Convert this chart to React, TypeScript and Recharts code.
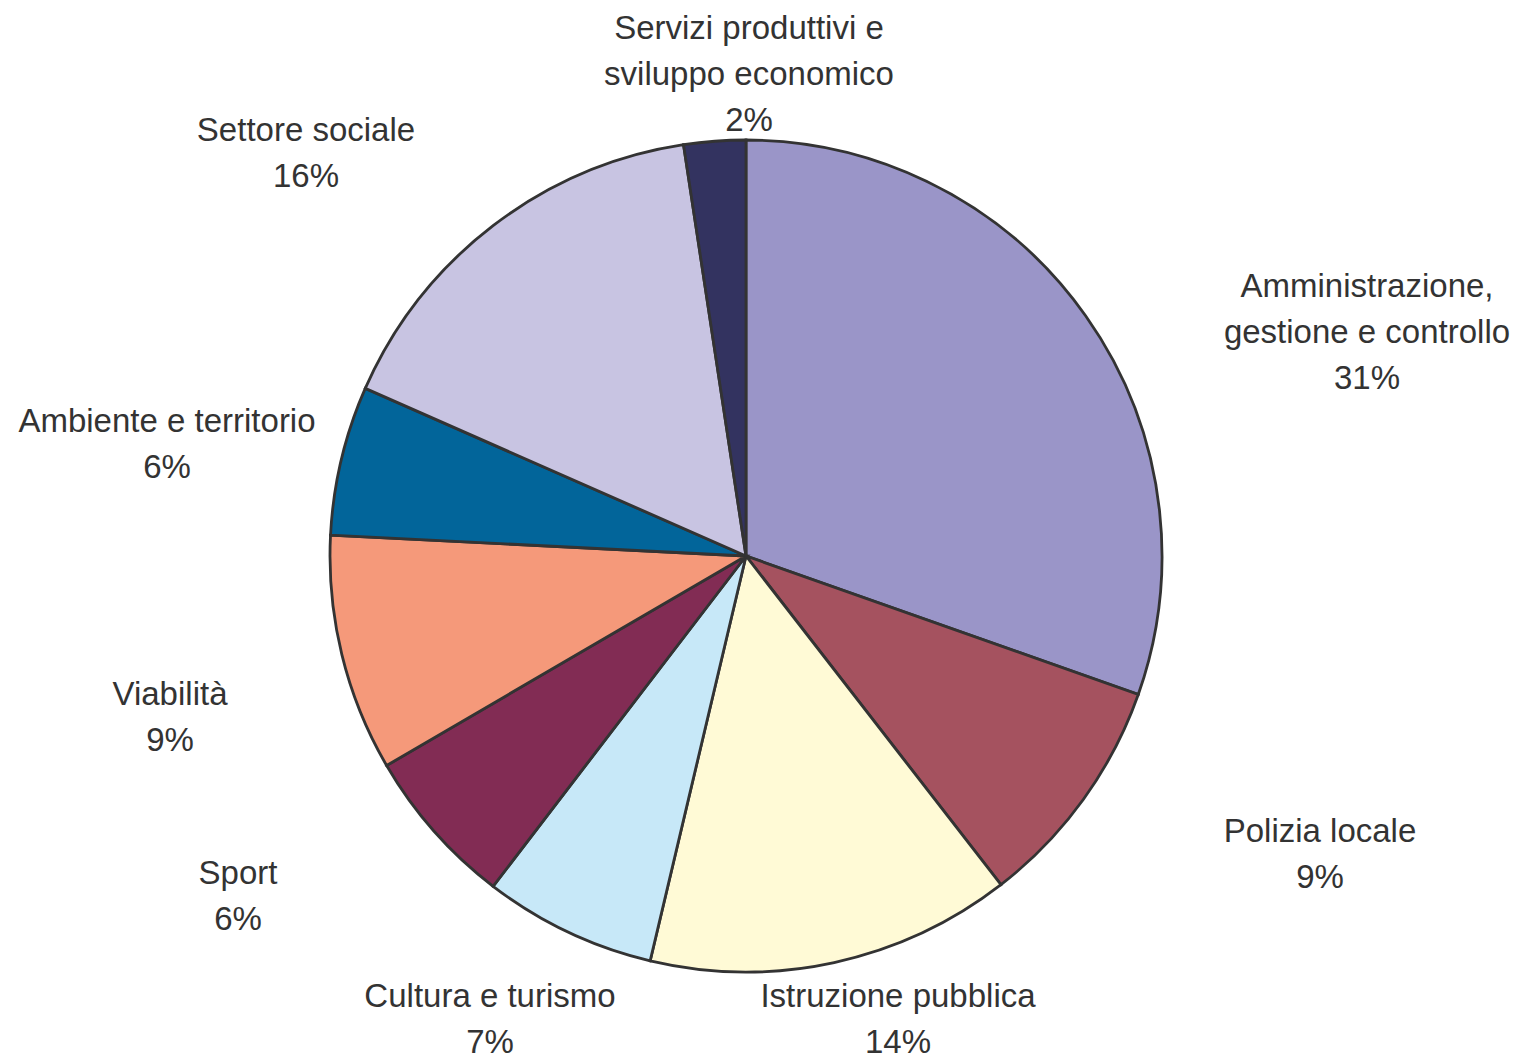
import React from "react";
import { PieChart, Pie, Cell } from "recharts";

// Categories (clockwise from 12 o'clock)
const CATEGORIES: string[][] = [
  ["Amministrazione,", "gestione e controllo"],
  ["Polizia locale"],
  ["Istruzione pubblica"],
  ["Cultura e turismo"],
  ["Sport"],
  ["Viabilità"],
  ["Ambiente e territorio"],
  ["Settore sociale"],
  ["Servizi produttivi e", "sviluppo economico"],
];

// Share of each slice (%)
const VALUES: number[] = [30.4, 9.1, 14.2, 6.7, 6.2, 9.2, 5.8, 16.0, 2.4];

// Percentage labels as printed
const PERCENT_LABELS: string[] = ["31%", "9%", "14%", "7%", "6%", "9%", "6%", "16%", "2%"];

const COLORS: string[] = [
  "#9A95C8",
  "#A5525F",
  "#FFFAD6",
  "#C7E8F8",
  "#822C54",
  "#F5997A",
  "#02659A",
  "#C8C4E2",
  "#333360",
];

// Label layout: offset of the first baseline from the pie centre
const LABEL_OFFSETS: [number, number][] = [
  [621, -259],
  [574, 286],
  [152, 451],
  [-256, 451],
  [-508, 328],
  [-576, 149],
  [-579, -124],
  [-440, -415],
  [3, -517],
];

const data = CATEGORIES.map((lines, i) => ({
  name: lines.join(" "),
  value: VALUES[i],
}));

const W = 1522;
const H = 1059;
const CX = 746;
const CY = 556;
const R = 416;
const LINE_H = 46;

const renderLabel = (props: any) => {
  const { index } = props;
  const [dx, dy] = LABEL_OFFSETS[index];
  const x = CX + dx;
  const y = CY + dy;
  const lines = [...CATEGORIES[index], PERCENT_LABELS[index]];
  return (
    <text
      key={`lbl-${index}`}
      x={x}
      y={y}
      textAnchor="middle"
      fill="#333333"
      fontSize={33}
      fontFamily="'Liberation Sans', Arial, Helvetica, sans-serif"
    >
      {lines.map((t, k) => (
        <tspan key={k} x={x} y={y + k * LINE_H}>
          {t}
        </tspan>
      ))}
    </text>
  );
};

export default function App() {
  return (
    <div style={{ position: "absolute", left: 0, top: 0, width: W, height: H, background: "#ffffff" }}>
      <PieChart width={W} height={H} margin={{ top: 0, right: 0, bottom: 0, left: 0 }}>
        <Pie
          data={data}
          dataKey="value"
          nameKey="name"
          cx={CX}
          cy={CY}
          outerRadius={R}
          startAngle={90}
          endAngle={-270}
          stroke="#333333"
          strokeWidth={2.8}
          label={renderLabel}
          labelLine={false}
          isAnimationActive={false}
        >
          {data.map((d, i) => (
            <Cell key={d.name} fill={COLORS[i]} />
          ))}
        </Pie>
      </PieChart>
    </div>
  );
}
